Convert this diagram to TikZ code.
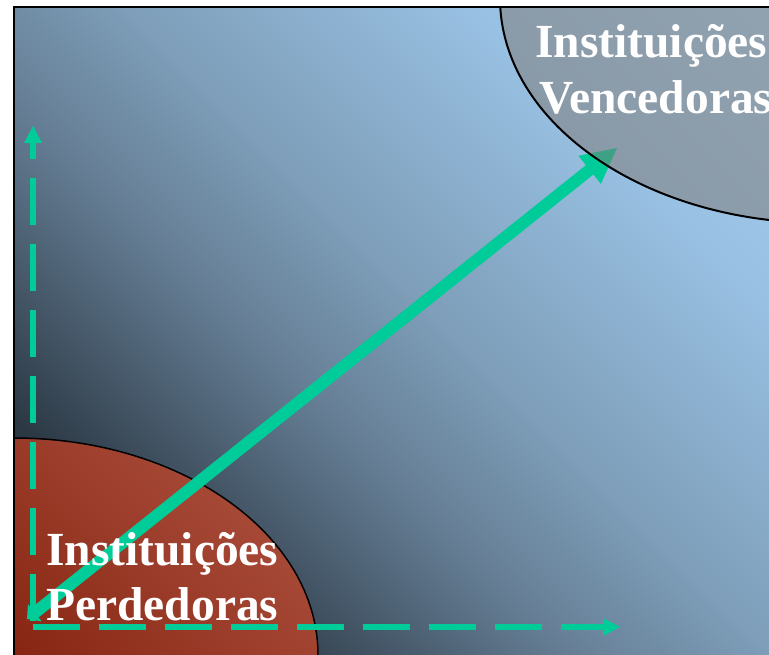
\documentclass[tikz,border=0pt]{standalone}
\usepackage{fontspec}
\setmainfont{Liberation Serif}
\usetikzlibrary{arrows.meta}
\definecolor{bgA}{RGB}{12,16,20}
\definecolor{bgB}{RGB}{45,58,70}
\definecolor{bgC}{RGB}{102,127,150}
\definecolor{bgD}{RGB}{126,158,185}
\definecolor{bgE}{RGB}{152,192,226}
\definecolor{bgF}{RGB}{165,206,240}
\definecolor{redA}{RGB}{134,38,18}
\definecolor{redB}{RGB}{157,62,44}
\definecolor{redC}{RGB}{166,72,54}
\definecolor{ellgray}{RGB}{125,118,112}
\definecolor{arrgreen}{RGB}{0,204,153}
\pgfdeclarehorizontalshading{bgshade}{100bp}{color(0bp)=(bgA); color(14.64bp)=(bgA); color(25.88bp)=(bgB); color(40.86bp)=(bgC); color(50.23bp)=(bgD); color(66.15bp)=(bgE); color(80.34bp)=(bgF); color(100bp)=(bgF)}
\pgfdeclarehorizontalshading{redshade}{100bp}{color(0bp)=(redA); color(50bp)=(redA); color(67bp)=(redB); color(75bp)=(redC); color(100bp)=(redC)}
\tikzset{
  axisline/.style={draw=arrgreen, line width=6.5pt, dash pattern=on 47pt off 19pt,
    -{Triangle[length=17pt,width=18pt,line width=0pt]}},
  diagline/.style={draw=arrgreen, line width=12pt,
    {Triangle[length=10pt,width=22pt,line width=0pt]}-{Triangle[length=35pt,width=36pt,line width=0pt]}},
  lbl/.style={text=white, inner sep=0pt, font=\fontsize{47.5}{55.5}\selectfont\bfseries},
}
\begin{document}
\begin{tikzpicture}[x=1pt,y=-1pt]
\useasboundingbox (0,0) rectangle (769,655);
\clip (0,0) rectangle (769,655);
\fill[white] (0,0) rectangle (769,655);
\begin{scope}
  \clip (14,7) rectangle (769,655);
  % background gradient
  \shade[shading=bgshade, shading angle=45] (14,-100) rectangle (769,655);
  % losing institutions area
  \shadedraw[shading=redshade, shading angle=45, draw=black, line width=1.5pt]
    (14,655) ellipse [x radius=304, y radius=217];
  % coordinates
  \coordinate (vbot) at (33,621);
  \coordinate (vtop) at (33,126);
  \coordinate (hleft) at (33,627);
  \coordinate (hright) at (620,627);
  \coordinate (dlow) at (27,619);
  \coordinate (dhigh) at (617,148);
  % axes
  \draw[axisline] (vbot) -- (vtop);
  \draw[axisline] (hleft) -- (hright);
  % diagonal arrow
  \draw[diagline] (dlow) -- (dhigh);
  % winning institutions area
  \filldraw[fill=ellgray, fill opacity=0.5, draw=black, line width=2pt]
    (822,-2) ellipse [x radius=322, y radius=225];
  % labels
  \node[lbl, anchor=base west] (win) at (535,58)
    {\begin{tabular}[t]{@{}l@{}}Instituições\\\hspace*{4pt}Vencedoras\end{tabular}};
  \node[lbl, anchor=base west] (lose) at (46,565)
    {\begin{tabular}[t]{@{}l@{}}Instituições\\Perdedoras\end{tabular}};
\end{scope}
% frame
\draw[line width=2.5pt] (14,7) rectangle (790,680);
\end{tikzpicture}
\end{document}
